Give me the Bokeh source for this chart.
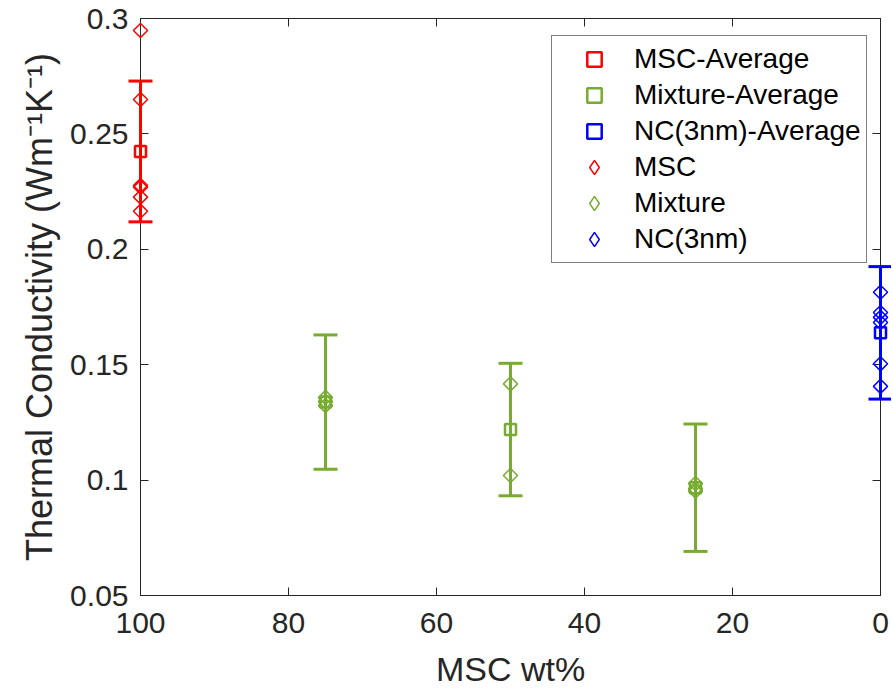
from bokeh.plotting import figure
from bokeh.models import (ColumnDataSource, Range1d, FixedTicker, LinearAxis,
                          Legend, LegendItem)
from bokeh.embed import file_html
from bokeh.resources import INLINE

# ---- data ----
msc_x = [100, 100, 100, 100, 100, 100]
msc_y = [0.2948, 0.2649, 0.2276, 0.2269, 0.2226, 0.2165]

mix_x = [75, 75, 75, 50, 50, 25, 25, 25]
mix_y = [0.1358, 0.1340, 0.1323, 0.1417, 0.1020, 0.0985, 0.0962, 0.0952]

nc_x = [0, 0, 0, 0, 0, 0]
nc_y = [0.1814, 0.1726, 0.1705, 0.1683, 0.1504, 0.1406]

msc_avg_x = [100]
msc_avg_y = [0.2424]
msc_avg_err = [0.0305]

mix_avg_x = [75, 50, 25]
mix_avg_y = [0.1338, 0.1219, 0.0967]
mix_avg_err = [0.0291, 0.0287, 0.0276]

nc_avg_x = [0]
nc_avg_y = [0.1638]
nc_avg_err = [0.0287]

x_ticks = [0, 20, 40, 60, 80, 100]
x_tick_labels = ["0", "20", "40", "60", "80", "100"]
y_ticks = [0.05, 0.1, 0.15, 0.2, 0.25, 0.3]
y_tick_labels = ["0.05", "0.1", "0.15", "0.2", "0.25", "0.3"]

RED = "#FF0000"
GREEN = "#77AC30"
BLUE = "#0000FF"
TXT = "#262626"
FONT = "Liberation Sans"

p = figure(output_backend="svg", toolbar_location=None,
           x_range=Range1d(max(x_ticks), min(x_ticks)),
           y_range=Range1d(min(y_ticks), max(y_ticks)),
           frame_width=740, frame_height=577,
           min_border_left=140, min_border_top=18, min_border_right=11,
           min_border_bottom=92)
p.grid.visible = False
p.outline_line_color = TXT
p.outline_line_width = 1
p.background_fill_color = "white"
p.border_fill_color = "white"

xa = p.xaxis[0]
ya = p.yaxis[0]
xa.axis_label = "MSC wt%"
ya.axis_label = "Thermal Conductivity (Wm\u207b\u00b9K\u207b\u00b9)"

for ax in (xa, ya):
    ax.axis_line_color = TXT
    ax.major_tick_line_color = TXT
    ax.major_tick_in = 8
    ax.major_tick_out = 0
    ax.minor_tick_line_color = None
    ax.major_label_text_font = FONT
    ax.major_label_text_font_size = "30px"
    ax.major_label_text_color = TXT
    ax.axis_label_text_font = FONT
    ax.axis_label_text_font_style = "normal"
    ax.axis_label_text_color = TXT

xa.axis_label_text_font_size = "34px"
ya.axis_label_text_font_size = "36px"

xa.ticker = FixedTicker(ticks=x_ticks)
xa.major_label_overrides = dict(zip(x_ticks, x_tick_labels))
xa.major_label_standoff = 17
xa.axis_label_standoff = 14

ya.ticker = FixedTicker(ticks=y_ticks)
ya.major_label_overrides = dict(zip(y_ticks, y_tick_labels))
ya.major_label_standoff = 12
ya.axis_label_standoff = 7

# mirrored box sides with inward ticks (top / right), no labels
top = LinearAxis(ticker=FixedTicker(ticks=x_ticks),
                 major_label_overrides={t: "" for t in x_ticks})
right = LinearAxis(ticker=FixedTicker(ticks=y_ticks),
                   major_label_overrides={t: "" for t in y_ticks})
for ax in (top, right):
    ax.axis_line_color = TXT
    ax.major_tick_line_color = TXT
    ax.major_tick_in = 8
    ax.major_tick_out = 0
    ax.minor_tick_line_color = None
    ax.major_label_text_font_size = "1px"
    ax.major_label_standoff = 0
p.add_layout(top, "above")
p.add_layout(right, "right")


def avg_series(xs, ys, errs, color):
    src = ColumnDataSource(dict(x=xs, y=ys,
                                upper=[a + b for a, b in zip(ys, errs)],
                                lower=[a - b for a, b in zip(ys, errs)]))
    # error bar stem and caps (overlay level so they are not cut at the box)
    p.segment(x0="x", y0="lower", x1="x", y1="upper", source=src,
              line_color=color, line_width=3, level="overlay")
    p.scatter("x", "upper", source=src, marker="dash", size=24,
              line_color=color, line_width=3, level="overlay")
    p.scatter("x", "lower", source=src, marker="dash", size=24,
              line_color=color, line_width=3, level="overlay")
    sq = p.scatter("x", "y", source=src, marker="square", size=11,
                   fill_color=None, line_color=color, line_width=2.5,
                   level="overlay")
    return sq


def point_series(xs, ys, color):
    src = ColumnDataSource(dict(x=xs, y=ys))
    # drawn diamonds (square turned by 45 degrees)
    p.scatter("x", "y", source=src, marker="square", angle=0.785398, size=10,
              fill_color=None, line_color=color, line_width=1.5,
              level="overlay")
    # legend-only diamond glyph
    leg = p.scatter("x", "y", source=src, marker="diamond", size=14,
                    fill_color=None, line_color=color, line_width=1.5,
                    visible=False)
    return leg


r_msc_avg = avg_series(msc_avg_x, msc_avg_y, msc_avg_err, RED)
r_mix_avg = avg_series(mix_avg_x, mix_avg_y, mix_avg_err, GREEN)
r_nc_avg = avg_series(nc_avg_x, nc_avg_y, nc_avg_err, BLUE)
r_msc = point_series(msc_x, msc_y, RED)
r_mix = point_series(mix_x, mix_y, GREEN)
r_nc = point_series(nc_x, nc_y, BLUE)

legend = Legend(items=[
    LegendItem(label="MSC-Average", renderers=[r_msc_avg]),
    LegendItem(label="Mixture-Average", renderers=[r_mix_avg]),
    LegendItem(label="NC(3nm)-Average", renderers=[r_nc_avg]),
    LegendItem(label="MSC", renderers=[r_msc]),
    LegendItem(label="Mixture", renderers=[r_mix]),
    LegendItem(label="NC(3nm)", renderers=[r_nc]),
], location=(411, 332))
legend.padding = 5
legend.spacing = 0
legend.label_height = 36
legend.glyph_height = 36
legend.glyph_width = 74
legend.label_standoff = 3
legend.label_text_font = FONT
legend.label_text_font_size = "28px"
legend.label_text_color = "black"
legend.border_line_color = "black"
legend.border_line_width = 1
legend.background_fill_color = "white"
legend.background_fill_alpha = 1
p.add_layout(legend, "center")

open("out.html", "w").write(file_html(p, INLINE))
